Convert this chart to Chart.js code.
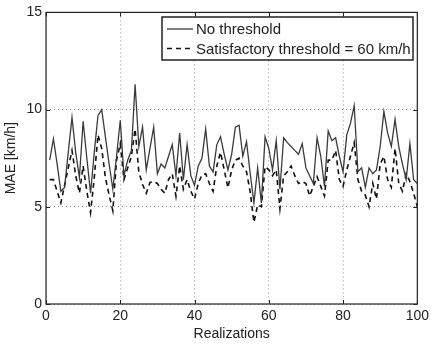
<!DOCTYPE html>
<html>
<head>
<meta charset="UTF-8">
<script src="https://cdn.jsdelivr.net/npm/chart.js@4"></script>
<title>MAE</title>
<style>
    html,body{margin:0; padding:0; background:#fff;}
    #wrap{width:433px; height:344px;}
</style>
</head>
<body>
<div id="wrap"><canvas id="myChart" width="433" height="344"></canvas></div>
<script>
// data
const realizations = [1,2,3,4,5,6,7,8,9,10,11,12,13,14,15,16,17,18,19,20,21,22,23,24,25,26,27,28,29,30,31,32,33,34,35,36,37,38,39,40,41,42,43,44,45,46,47,48,49,50,51,52,53,54,55,56,57,58,59,60,61,62,63,64,65,66,67,68,69,70,71,72,73,74,75,76,77,78,79,80,81,82,83,84,85,86,87,88,89,90,91,92,93,94,95,96,97,98,99,100]
const noThreshold = [7.4,8.5,7.2,5.8,6.0,7.8,9.6,7.8,6.5,9.4,7.5,5.7,7.8,9.7,10.0,8.6,7.2,5.9,7.6,9.45,
    6.6,7.4,7.9,11.3,8.1,9.1,6.9,8.0,9.1,6.7,7.2,7.0,7.6,8.2,6.6,8.8,6.4,8.2,6.6,6.1,
    7.1,7.5,9.0,7.1,6.8,8.2,8.6,7.7,6.9,7.7,9.1,9.2,7.6,8.35,6.7,5.2,7.0,5.2,8.6,8.0,
    6.9,8.4,5.9,8.55,8.3,8.1,7.9,7.7,8.25,7.0,6.6,6.2,8.55,7.6,6.05,8.9,8.4,8.55,7.6,6.8,
    8.7,9.3,10.2,6.8,7.0,6.0,7.0,6.7,6.9,8.1,9.9,8.8,8.1,9.5,8.1,7.2,6.4,8.25,6.4,6.2]
const satThreshold = [6.4,6.4,5.8,5.2,6.1,7.0,7.9,6.6,5.7,7.1,5.8,4.7,6.5,8.7,8.0,6.5,5.6,4.8,7.4,8.25,
    6.4,7.0,7.6,9.0,6.8,6.15,5.7,6.25,6.3,6.2,5.9,5.7,6.4,6.7,5.55,7.1,5.9,6.4,5.8,5.4,
    6.2,6.65,6.7,6.2,5.8,7.1,7.8,6.9,5.97,6.9,7.4,7.5,7.1,6.8,5.75,4.2,5.1,5.0,7.07,6.9,
    6.6,6.9,4.9,6.6,6.8,7.1,6.6,6.2,6.3,6.2,5.56,6.05,6.55,6.05,5.56,7.4,7.4,7.9,6.4,6.05,
    6.9,7.6,8.3,6.4,5.8,5.6,5.0,6.2,5.4,7.2,7.6,6.4,6.0,8.0,6.2,5.8,6.7,6.3,5.7,5.0]
const xTicks = [0,20,40,60,80,100]
const yTicks = [0,5,10,15]
const seriesNames = ['No threshold','Satisfactory threshold = 60 km/h']

const FONT = {family:'"Liberation Sans", Arial, sans-serif', size:14}
const INK = '#222'

// frame, inward ticks and the legend inside the top right corner
const matlabBox = {
    id:'matlabBox',
    afterDraw(chart){
        const ctx = chart.ctx
        const a = chart.chartArea
        const sx = chart.scales.x, sy = chart.scales.y
        ctx.save()
        ctx.strokeStyle = INK
        ctx.lineWidth = 1.2
        ctx.strokeRect(a.left, a.top, a.right-a.left, a.bottom-a.top)
        ctx.lineWidth = 1
        ctx.beginPath()
        xTicks.forEach(v=>{
            const p = Math.round(sx.getPixelForValue(v))+0.5
            ctx.moveTo(p,a.bottom); ctx.lineTo(p,a.bottom-4)
            ctx.moveTo(p,a.top); ctx.lineTo(p,a.top+4)
        })
        yTicks.forEach(v=>{
            const p = Math.round(sy.getPixelForValue(v))+0.5
            ctx.moveTo(a.left,p); ctx.lineTo(a.left+4,p)
            ctx.moveTo(a.right,p); ctx.lineTo(a.right-4,p)
        })
        ctx.stroke()

        // legend
        const bx = 162, by = 17, bw = 251, bh = 43
        ctx.fillStyle = '#fff'
        ctx.fillRect(bx,by,bw,bh)
        ctx.lineWidth = 1.5
        ctx.strokeStyle = INK
        ctx.strokeRect(bx,by,bw,bh)
        ctx.font = '15px '+FONT.family
        ctx.textBaseline = 'middle'
        ctx.fillStyle = INK
        chart.data.datasets.forEach((ds,i)=>{
            const yy = by + 12 + i*19.5
            ctx.beginPath()
            ctx.lineWidth = ds.borderWidth
            ctx.strokeStyle = ds.borderColor
            ctx.setLineDash(ds.borderDash || [])
            ctx.moveTo(bx+5,yy); ctx.lineTo(bx+31,yy)
            ctx.stroke()
            ctx.setLineDash([])
            ctx.fillText(ds.label, bx+34, yy+1)
        })
        ctx.restore()
    }
}

const ctx = document.getElementById('myChart').getContext('2d')
const myChart = new Chart(ctx, {
    type:'line',
    data:{
        datasets:[{
            label:seriesNames[0],
            data:realizations.map((r,i)=>({x:r, y:noThreshold[i]})),
            borderColor:'#3a3a3a',
            borderWidth:1.3,
            pointRadius:0,
            tension:0
        },{
            label:seriesNames[1],
            data:realizations.map((r,i)=>({x:r, y:satThreshold[i]})),
            borderColor:'#111',
            borderWidth:1.6,
            borderDash:[5,4],
            pointRadius:0,
            tension:0
        }]
    },
    options:{
        responsive:false,
        animation:false,
        layout:{padding:{top:10, right:13, left:0, bottom:0}},
        plugins:{legend:{display:false}, tooltip:{enabled:false}},
        scales:{
            x:{
                type:'linear', min:0, max:100,
                afterBuildTicks: s => { s.ticks = xTicks.map(v=>({value:v})) },
                afterFit: s => { s.height = 40 },
                grid:{color:'#999', lineWidth:1, drawTicks:false},
                border:{display:false, dash:[1,3]},
                ticks:{color:INK, font:FONT, padding:4, maxRotation:0},
                title:{display:true, text:'Realizations', color:INK, font:FONT, padding:{top:0, bottom:1}}
            },
            y:{
                min:0, max:15,
                afterBuildTicks: s => { s.ticks = yTicks.map(v=>({value:v})) },
                afterFit: s => { s.width = 46 },
                grid:{color:'#999', lineWidth:1, drawTicks:false},
                border:{display:false, dash:[1,3]},
                ticks:{color:INK, font:FONT, padding:4},
                title:{display:true, text:'MAE [km/h]', color:INK, font:FONT, padding:{top:3, bottom:0}}
            }
        }
    },
    plugins:[matlabBox]
})
</script>
</body>
</html>
